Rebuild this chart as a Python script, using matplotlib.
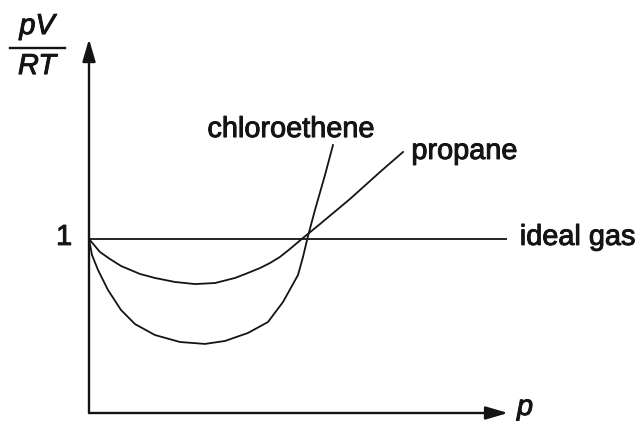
import matplotlib
matplotlib.use("Agg")
import matplotlib.pyplot as plt
import matplotlib.patheffects as pe

plt.rcParams['font.family'] = ['Liberation Sans', 'DejaVu Sans']

# Compressibility factor Z = pV/RT against pressure p (arbitrary units)
propane_p = [0, 0.275, 0.525, 0.8, 1.275, 1.65, 2.15, 2.65, 3.15, 3.65, 3.975,
             4.275, 4.525, 4.775, 5.025, 5.2, 5.35, 5.775, 6.525, 7.275, 7.85]
propane_z = [1.0, 0.925, 0.885, 0.845, 0.799, 0.776, 0.753, 0.741, 0.747, 0.776,
             0.805, 0.833, 0.862, 0.897, 0.943, 0.977, 1.006, 1.086, 1.230, 1.385, 1.500]

chloro_p = [0, 0.075, 0.225, 0.475, 0.8, 1.15, 1.65, 2.275, 2.9, 3.4, 3.975,
            4.475, 4.85, 5.225, 5.35, 5.475, 5.65, 5.9, 6.1]
chloro_z = [1.0, 0.908, 0.822, 0.707, 0.592, 0.511, 0.448, 0.408, 0.397, 0.414,
            0.460, 0.523, 0.638, 0.793, 0.897, 1.017, 1.167, 1.368, 1.540]

ideal_p = [0, 10.45]
ideal_z = [1.0, 1.0]

series_labels = ["chloroethene", "propane", "ideal gas"]

ink = '#141414'
fs = 20.8
heavy = [pe.withStroke(linewidth=0.7, foreground=ink)]

fig = plt.figure(figsize=(6.4, 4.21), dpi=100)
ax = fig.add_axes([0, 0, 1, 1])
ax.set_xlim(-2.225, 13.775)
ax.set_ylim(-0.046, 2.3736)
ax.axis('off')

# curves
ax.plot(ideal_p, ideal_z, color=ink, lw=1.3, solid_capstyle='butt')
ax.plot(propane_p, propane_z, color=ink, lw=1.3, solid_joinstyle='round')
ax.plot(chloro_p, chloro_z, color=ink, lw=1.3, solid_joinstyle='round')

# axes with arrow heads
arrow = dict(arrowstyle='-|>,head_length=0.75,head_width=0.22', lw=1.7,
             color=ink, shrinkA=0, shrinkB=0, mutation_scale=18)
ax.annotate('', xy=(10.475, 0.0), xytext=(0, 0.0), arrowprops=arrow)
ax.annotate('', xy=(0, 2.149), xytext=(0, 0.0), arrowprops=arrow)

# curve labels
ax.text(5.05, 1.586, series_labels[0], fontsize=fs, ha='center', va='baseline',
        color=ink, path_effects=heavy)
ax.text(8.06, 1.46, series_labels[1], fontsize=fs, ha='left', va='baseline',
        color=ink, path_effects=heavy)
ax.text(10.77, 0.966, series_labels[2], fontsize=fs, ha='left', va='baseline',
        color=ink, path_effects=heavy)

# tick label at Z = 1
ax.text(-0.42, 0.966, "1", fontsize=fs, ha='right', va='baseline', color=ink,
        path_effects=heavy)

# axis titles
ax.text(10.7, -0.0115, "p", fontsize=fs, ha='left', va='baseline',
        style='italic', color=ink, path_effects=heavy)
ax.plot([-1.975, -0.6], [2.098, 2.098], color=ink, lw=1.7)
ax.text(-1.3, 2.178, "pV", fontsize=fs, ha='center', va='baseline',
        style='italic', color=ink, path_effects=heavy)
ax.text(-1.3, 1.948, "RT", fontsize=fs, ha='center', va='baseline',
        style='italic', color=ink, path_effects=heavy)

fig.savefig("out.png", dpi=100)
